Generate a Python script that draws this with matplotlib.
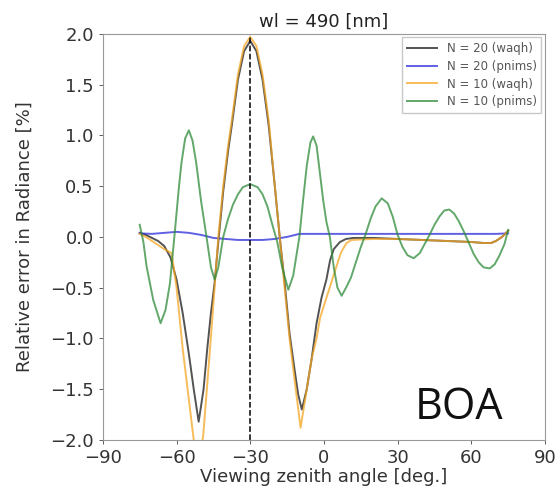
import numpy as np
import matplotlib
matplotlib.use('Agg')
import matplotlib.pyplot as plt

# values (viewing zenith angle [deg], relative error [%])
vza_n20_waqh = [-75, -72.5, -70, -67.5, -65, -62.5, -60, -57.5, -55, -53, -51, -49, -47.5, -46, -44.5,
                -43, -41, -39, -37.5, -35, -32.5, -30, -27.5, -25, -22.5, -20, -18, -16, -14, -12,
                -10.5, -9, -7, -5, -3, -1, 1, 2.5, 4, 6.5, 9, 12, 20, 30, 40, 50, 60, 65, 68, 70,
                72.5, 75]
err_n20_waqh = [0.04, 0.02, -0.01, -0.04, -0.09, -0.2, -0.42, -0.75, -1.15, -1.5, -1.82, -1.5, -1.1,
                -0.75, -0.45, -0.05, 0.45, 0.85, 1.1, 1.55, 1.83, 1.93, 1.83, 1.55, 1.1, 0.5, 0.0,
                -0.45, -0.95, -1.3, -1.55, -1.70, -1.5, -1.2, -0.85, -0.6, -0.42, -0.23, -0.12,
                -0.05, -0.02, -0.01, -0.01, -0.02, -0.03, -0.04, -0.05, -0.06, -0.06, -0.04,
                0.0, 0.06]

vza_n20_pnims = [-75, -70, -65, -60, -55, -50, -45, -40, -35, -30, -25, -20, -15, -10, -5, 0, 5, 10,
                 20, 30, 40, 50, 60, 70, 75]
err_n20_pnims = [0.035, 0.03, 0.04, 0.05, 0.04, 0.02, -0.01, -0.02, -0.03, -0.03, -0.03, -0.02, 0.0,
                 0.03, 0.03, 0.03, 0.03, 0.03, 0.03, 0.03, 0.03, 0.03, 0.03, 0.03, 0.035]

vza_n10_waqh = [-75, -72.5, -70, -67.5, -65, -62, -60, -57.5, -55, -53, -51.5, -49.2, -47.5, -46,
                -44.4, -43, -41, -39, -37.5, -35, -32.5, -30, -27.5, -25, -22.5, -20, -18, -16, -14,
                -12, -9.5, -7, -5, -3, -1.6, 1, 3, 5.1, 7, 9.2, 11.2, 20, 30, 40, 50, 60, 65, 68,
                70, 72.5, 75]
err_n10_waqh = [0.03, 0.0, -0.04, -0.08, -0.12, -0.16, -0.5, -1.1, -1.6, -2.0, -2.25, -1.97, -1.45,
                -0.98, -0.46, 0.0, 0.5, 0.9, 1.15, 1.6, 1.88, 1.97, 1.88, 1.6, 1.15, 0.5, 0.0, -0.5,
                -1.0, -1.4, -1.88, -1.5, -1.2, -1.0, -0.8, -0.6, -0.45, -0.29, -0.15, -0.06, -0.03,
                -0.02, -0.02, -0.03, -0.04, -0.05, -0.06, -0.06, -0.04, 0.0, 0.06]

vza_n10_pnims = [-75, -73.5, -72.2, -69.5, -66.5, -64.5, -62.7, -60.7, -59, -58, -56.5, -55, -53.5,
                 -52, -50, -47.8, -46, -44.5, -43, -41, -39, -37, -35, -33, -30, -27, -25, -23,
                 -21, -19, -17, -14.5, -12.5, -10, -8.5, -7, -5.5, -4.4, -3, -1.5, -0.3, 1, 2.4,
                 4, 5.5, 7.2, 9, 11, 13, 15, 17, 19, 21, 23.5, 26, 28, 30, 32, 34, 36.5, 39, 41,
                 43, 45, 47, 49, 51, 53, 55, 57, 59, 61, 63, 65, 67.5, 69.5, 71.5, 73.5, 75]
err_n10_pnims = [0.12, -0.05, -0.29, -0.62, -0.85, -0.72, -0.46, 0.05, 0.5, 0.73, 0.97, 1.05, 0.95,
                 0.73, 0.35, 0.0, -0.3, -0.42, -0.3, 0.0, 0.18, 0.32, 0.42, 0.49, 0.52, 0.49, 0.42,
                 0.3, 0.12, -0.05, -0.3, -0.52, -0.38, 0.0, 0.36, 0.7, 0.93, 0.99, 0.9, 0.6, 0.36,
                 0.15, 0.0, -0.3, -0.5, -0.58, -0.5, -0.4, -0.25, -0.1, 0.03, 0.18, 0.3, 0.38,
                 0.33, 0.2, 0.02, -0.1, -0.18, -0.21, -0.16, -0.07, 0.02, 0.12, 0.2, 0.26, 0.27,
                 0.23, 0.15, 0.05, -0.06, -0.17, -0.25, -0.3, -0.31, -0.27, -0.18, -0.07, 0.07]

labels = ['N = 20 (waqh)', 'N = 20 (pnims)', 'N = 10 (waqh)', 'N = 10 (pnims)']
colors = ['#1a1a1a', '#2b2bd9', '#f5a623', '#2e8b3a']
xticks = [-90, -60, -30, 0, 30, 60, 90]
yticks = [-2.0, -1.5, -1.0, -0.5, 0.0, 0.5, 1.0, 1.5, 2.0]

fig = plt.figure(figsize=(5.59, 4.98), dpi=100)
ax = fig.add_axes([0.184, 0.1165, 0.791, 0.8155])

series = [(vza_n20_waqh, err_n20_waqh), (vza_n20_pnims, err_n20_pnims),
          (vza_n10_waqh, err_n10_waqh), (vza_n10_pnims, err_n10_pnims)]
for (x, y), lab, c in zip(series, labels, colors):
    ax.plot(x, y, color=c, lw=1.4, alpha=0.75, label=lab)

ax.axvline(-30, color='k', ls='--', lw=1.1)

ax.set_xlim(-90, 90)
ax.set_ylim(-2, 2)
ax.set_xticks(xticks)
ax.set_yticks(yticks)
ax.tick_params(labelsize=13, colors='#444444', labelcolor='#333333', length=3, width=0.6)
for s in ax.spines.values():
    s.set_color('#999999')
    s.set_linewidth(0.8)

ax.set_xlabel('Viewing zenith angle [deg.]', fontsize=13, color='#333333', labelpad=1)
ax.set_ylabel('Relative error in Radiance [%]', fontsize=13, color='#333333', labelpad=12)
ax.set_title('wl = 490 [nm]', fontsize=13, color='#222222', pad=5)

leg = ax.legend(loc='upper right', fontsize=8.5, frameon=True, fancybox=False,
                borderaxespad=0.3, handlelength=2.6, labelspacing=0.4)
leg.get_frame().set_edgecolor('#bbbbbb')
for t in leg.get_texts():
    t.set_color('#555555')

ax.text(55, -1.68, 'BOA', fontsize=31, family='Open Sans', ha='center', va='center', color='#111111')

fig.savefig('out.png', dpi=100)
